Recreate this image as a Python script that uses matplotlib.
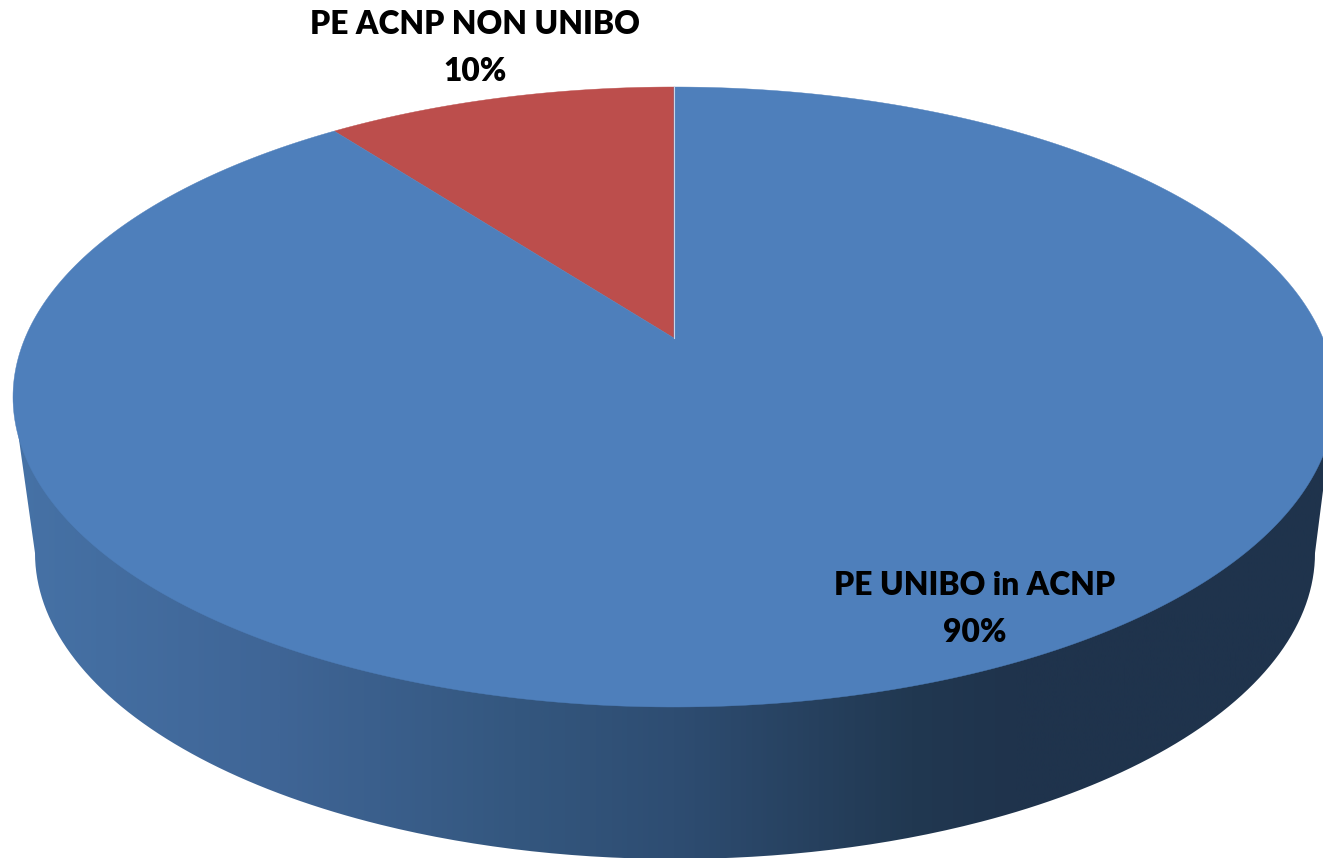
import matplotlib
matplotlib.use("Agg")
import matplotlib.pyplot as plt
import numpy as np
from matplotlib.colors import LinearSegmentedColormap
from matplotlib.patches import PathPatch
from matplotlib.path import Path

LABELS = ["PE UNIBO in ACNP", "PE ACNP NON UNIBO"]
VALUES = [89.7, 10.3]
COLORS = ["#4E7FBB", "#BC4E4C"]
LABEL_POS = [(975, 609), (475, 48)]

# top face and bottom rim of the pie, in pixels
TOP_CX, TOP_CY, TOP_RX, TOP_RY = 674, 397, 661, 310
BOT_CX, BOT_CY, BOT_RX, BOT_RY = 675, 553, 640, 306
TILT = 0.19

SIDE_STOPS = [0.0, 0.2, 0.38, 0.5, 0.68, 0.76, 1.0]
SIDE_COLORS = ["#4672A6", "#3F6596", "#34577F", "#2E4D72", "#213851", "#1F334C", "#1F334C"]


def point_on_top(angle):
    # perspective: the pie centre lands above the middle of the ellipse
    cx = np.cos(angle)
    cy = np.sin(angle)
    den = 1 + TILT * cy
    x = cx * np.sqrt(1 - TILT**2) / den
    y = (cy + TILT) / den
    return TOP_CX + TOP_RX * x, TOP_CY - TOP_RY * y


fig = plt.figure(figsize=(13.23, 8.58), dpi=100)
ax = fig.add_axes([0, 0, 1, 1])
ax.axis("off")

# side wall
t = np.linspace(np.pi, 2 * np.pi, 300)
rim_x = BOT_CX + BOT_RX * np.cos(t)
rim_y = BOT_CY - BOT_RY * np.sin(t)
wall = np.column_stack([
    np.r_[TOP_CX - TOP_RX, rim_x, TOP_CX + TOP_RX],
    np.r_[TOP_CY, rim_y, TOP_CY],
])
cmap = LinearSegmentedColormap.from_list("side", list(zip(SIDE_STOPS, SIDE_COLORS)))
img = ax.imshow(
    np.linspace(0, 1, 512).reshape(1, -1),
    cmap=cmap,
    extent=[13, 1335, 858, 380],
    aspect="auto",
    zorder=1,
)
patch = PathPatch(Path(wall), facecolor="none", edgecolor="none")
ax.add_patch(patch)
img.set_clip_path(patch)
ax.set_xlim(0, 1323)
ax.set_ylim(858, 0)

# top face, slices run counterclockwise from 12 o'clock
apex = (TOP_CX, TOP_CY - TOP_RY * TILT)
start = np.pi / 2
for value, color in zip(VALUES[::-1], COLORS[::-1]):
    stop = start + 2 * np.pi * value / sum(VALUES)
    ang = np.linspace(start, stop, 400)
    x, y = point_on_top(ang)
    ax.fill(np.r_[apex[0], x], np.r_[apex[1], y], color=color, lw=0.3, zorder=2)
    start = stop

# light seam at 12 o'clock
x0, y0 = point_on_top(np.pi / 2)
ax.plot([apex[0], x0], [apex[1], y0], color="#C9D6E8", lw=0.8, zorder=3)

for label, value, (x, y) in zip(LABELS, VALUES, LABEL_POS):
    ax.text(
        x,
        y,
        f"{label}\n{value:.0f}%",
        ha="center",
        va="center",
        family="Lato",
        fontweight="heavy",
        fontsize=22.9,
        linespacing=1.72,
        color="black",
        zorder=4,
    )

fig.savefig("out.png", dpi=100)
plt.close(fig)
